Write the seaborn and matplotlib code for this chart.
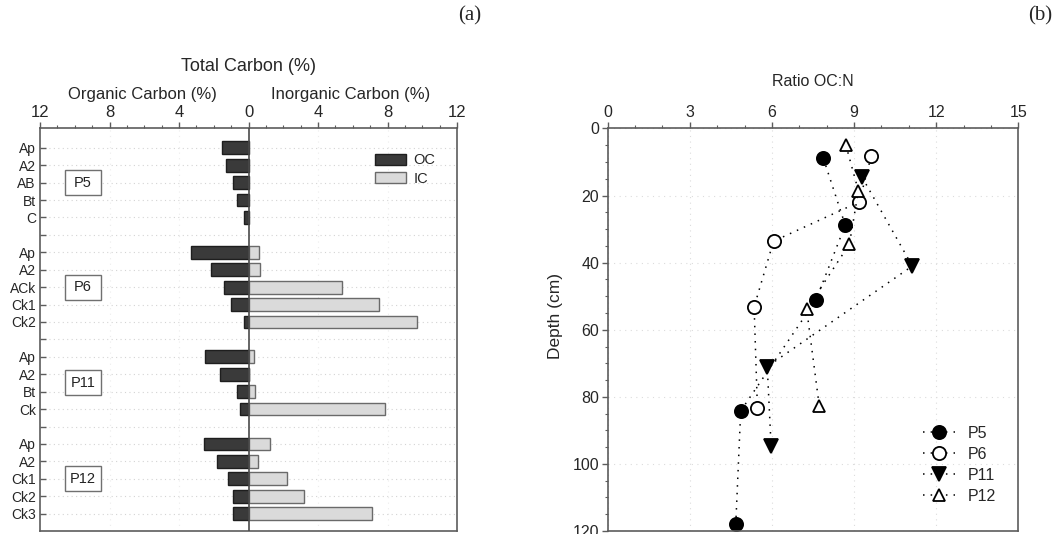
import matplotlib
matplotlib.use("Agg")
import matplotlib.pyplot as plt
import numpy as np
import pandas as pd
import seaborn as sns
from matplotlib.patches import Patch, Rectangle
from matplotlib.ticker import MultipleLocator
from matplotlib.transforms import blended_transform_factory

# ---------------- data: carbon content per horizon ----------------
profiles = ["P5", "P6", "P11", "P12"]
horizons = [
    ["Ap", "A2", "AB", "Bt", "C"],
    ["Ap", "A2", "ACk", "Ck1", "Ck2"],
    ["Ap", "A2", "Bt", "Ck"],
    ["Ap", "A2", "Ck1", "Ck2", "Ck3"],
]
organic_c = [
    [1.51, 1.27, 0.90, 0.69, 0.25],
    [3.30, 2.18, 1.42, 1.03, 0.29],
    [2.51, 1.65, 0.69, 0.52],
    [2.59, 1.84, 1.19, 0.90, 0.90],
]
inorganic_c = [
    [0.0, 0.0, 0.0, 0.0, 0.0],
    [0.61, 0.65, 5.38, 7.49, 9.69],
    [0.33, 0.05, 0.36, 7.87],
    [1.26, 0.56, 2.22, 3.18, 7.11],
]

# ---------------- data: OC:N ratio with depth ----------------
p5_ratio = [7.88, 8.68, 7.61, 4.86, 4.68]
p5_depth = [8.9, 28.8, 51.1, 84.2, 117.9]
p6_ratio = [9.63, 9.19, 6.06, 5.35, 5.47]
p6_depth = [8.2, 21.9, 33.6, 53.2, 83.2]
p11_ratio = [9.30, 11.13, 5.83, 5.97]
p11_depth = [14.6, 41.0, 71.0, 94.6]
p12_ratio = [8.70, 9.16, 8.83, 7.27, 7.73]
p12_depth = [4.9, 18.6, 34.5, 53.9, 82.7]

ratio_series = [p5_ratio, p6_ratio, p11_ratio, p12_ratio]
depth_series = [p5_depth, p6_depth, p11_depth, p12_depth]

sns.set_theme(style="white")
plt.rcParams["font.family"] = ["Liberation Sans", "DejaVu Sans"]

# Build a long table; one spacer slot between profiles
records, order, tick_labels, profile_rows = [], [], [], []
for i, (prof, hz, oc, ic) in enumerate(zip(profiles, horizons, organic_c, inorganic_c)):
    start = len(order)
    for h, o, c in zip(hz, oc, ic):
        key = f"{prof}|{h}"
        order.append(key)
        tick_labels.append(h)
        records.append({"key": key, "profile": prof, "horizon": h, "oc": -o, "ic": c})
    profile_rows.append(start + (len(hz) - 1) / 2)
    if i < len(profiles) - 1:
        order.append(f"gap{i}")
        tick_labels.append("")
carbon = pd.DataFrame(records)

fig = plt.figure(figsize=(10.62, 5.34), dpi=100)
axL = fig.add_axes([0.0377, 0.0056, 0.3927, 0.7538])
axR = fig.add_axes([0.5722, 0.0056, 0.3866, 0.7538])

spine_col = "#5c5c5c"
oc_face, oc_edge = "#3a3a3a", "#1e1e1e"
ic_face, ic_edge = "#dadada", "#6a6a6a"

# ---------------- panel (a) ----------------
sns.barplot(data=carbon, x="oc", y="key", order=order, orient="h",
            color=oc_face, edgecolor=oc_edge, linewidth=1.0, width=0.73,
            errorbar=None, saturation=1, ax=axL)
sns.barplot(data=carbon[carbon["ic"] > 0], x="ic", y="key", order=order, orient="h",
            color=ic_face, edgecolor=ic_edge, linewidth=1.0, width=0.73,
            errorbar=None, saturation=1, ax=axL)

axL.set_xlim(-12, 12)
axL.set_ylim(len(order), -1.11)
axL.set_yticks(range(len(order)))
axL.set_yticklabels(tick_labels, fontsize=10)
axL.set_ylabel("")
axL.set_xlabel("")
axL.xaxis.tick_top()
major_x = [-12, -8, -4, 0, 4, 8, 12]
axL.set_xticks(major_x)
axL.set_xticklabels([str(abs(v)) for v in major_x], fontsize=12)
axL.xaxis.set_minor_locator(MultipleLocator(1))
axL.tick_params(axis="x", which="major", direction="out", length=4, width=1, color=spine_col, pad=2)
axL.tick_params(axis="x", which="minor", direction="out", length=2.5, width=0.8, color=spine_col, top=True)
axL.tick_params(axis="y", which="major", direction="in", length=4, width=1, color=spine_col, pad=3, left=True)
axL.grid(axis="y", linestyle=(0, (1, 3)), color="#d4d4d4", linewidth=0.8)
for gx in (-8, -4, 4, 8):
    axL.axvline(gx, linestyle=(0, (1, 4)), color="#ececec", linewidth=0.8, zorder=0)
axL.set_axisbelow(True)
for s in axL.spines.values():
    s.set_color(spine_col)
    s.set_linewidth(1.2)
axL.axvline(0, color="#4a4a4a", linewidth=1.2, zorder=5)

# profile name boxes
btrans = blended_transform_factory(axL.transAxes, axL.transData)
for prof, row in zip(profiles, profile_rows):
    axL.add_patch(Rectangle((0.06, row - 0.72), 0.086, 1.44, transform=btrans,
                            facecolor="white", edgecolor="#707070", linewidth=1.0, zorder=3))
    axL.text(0.103, row, prof, transform=btrans, ha="center", va="center",
             fontsize=10.5, color="#222222", zorder=4)

axL.legend(handles=[Patch(facecolor=oc_face, edgecolor=oc_edge, label="OC"),
                    Patch(facecolor=ic_face, edgecolor=ic_edge, label="IC")],
           loc="upper left", bbox_to_anchor=(0.803, 0.938), frameon=False,
           fontsize=10.5, handlelength=2.1, handleheight=0.75, handletextpad=0.55,
           labelspacing=0.3, borderpad=0, borderaxespad=0)

axL.text(0.4988, 1.155, "Total Carbon (%)", transform=axL.transAxes,
         ha="center", va="center", fontsize=13)
axL.text(0.245, 1.084, "Organic Carbon (%)", transform=axL.transAxes,
         ha="center", va="center", fontsize=12)
axL.text(0.745, 1.084, "Inorganic Carbon (%)", transform=axL.transAxes,
         ha="center", va="center", fontsize=12)

# ---------------- panel (b) ----------------
markers = ["o", "o", "v", "^"]
faces = ["black", "white", "black", "white"]
sizes = [9.5, 9.5, 9.5, 9.0]
for prof, r, d, m, fc, ms in zip(profiles, ratio_series, depth_series, markers, faces, sizes):
    sns.lineplot(x=r, y=d, sort=False, estimator=None, color="black",
                 linestyle=(0, (1, 4)), linewidth=1.1, marker=m, markersize=ms,
                 markerfacecolor=fc, markeredgecolor="black", markeredgewidth=1.3,
                 label=prof, ax=axR, legend=False)

axR.set_xlim(0, 15)
axR.set_ylim(120, 0)
axR.xaxis.tick_top()
axR.xaxis.set_label_position("top")
axR.set_xticks(np.arange(0, 16, 3))
axR.xaxis.set_minor_locator(MultipleLocator(1))
axR.set_yticks(np.arange(0, 121, 20))
axR.yaxis.set_minor_locator(MultipleLocator(5))
axR.tick_params(axis="both", which="major", direction="out", length=4, width=1,
                color=spine_col, labelsize=11.5, pad=2)
axR.tick_params(axis="x", which="minor", direction="out", length=2.5, width=0.8,
                color=spine_col, top=True)
axR.tick_params(axis="y", which="minor", direction="out", length=2.5, width=0.8,
                color=spine_col, left=True)
axR.tick_params(axis="x", which="major", top=True)
axR.tick_params(axis="y", which="major", left=True)
axR.set_xlabel("Ratio OC:N", fontsize=11.5, labelpad=14)
axR.set_ylabel("Depth (cm)", fontsize=12.5)
axR.yaxis.set_label_coords(-0.11, 0.535)
axR.grid(True, linestyle=(0, (1, 4)), color="#dcdcdc", linewidth=0.8)
axR.set_axisbelow(True)
for s in axR.spines.values():
    s.set_color(spine_col)
    s.set_linewidth(1.2)

axR.legend(handles=axR.get_lines()[:4], labels=profiles,
           loc="upper left", bbox_to_anchor=(0.768, 0.262), frameon=False,
           fontsize=11.5, handlelength=2.0, handletextpad=0.8, labelspacing=0.38,
           borderpad=0, borderaxespad=0)

# panel letters
fig.text(470 / 1062, 1 - 16 / 534, "(a)", ha="center", va="center",
         fontsize=15, family=["Liberation Serif", "DejaVu Serif"])
fig.text(1040 / 1062, 1 - 16 / 534, "(b)", ha="center", va="center",
         fontsize=15, family=["Liberation Serif", "DejaVu Serif"])

fig.savefig("out.png", dpi=100, facecolor="white")
